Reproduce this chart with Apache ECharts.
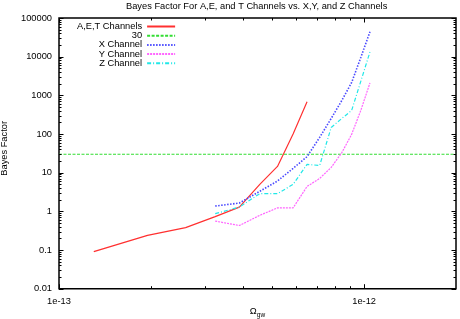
<!DOCTYPE html>
<html><head><meta charset="utf-8">
<script src="https://cdn.jsdelivr.net/npm/echarts@6/dist/echarts.min.js"></script>
<style>html,body{margin:0;padding:0;background:#fff}#c{width:460px;height:319px}</style>
</head><body><div id="c"></div>
<script>
// ---- data ----
const titleText = 'Bayes Factor For A,E, and T Channels vs. X,Y, and Z Channels';
const seriesNames = ['A,E,T Channels', '30', 'X Channel', 'Y Channel', 'Z Channel'];
const xAET = [1.3e-13, 1.95e-13, 2.6e-13, 3.25e-13, 3.9e-13, 4.55e-13, 5.2e-13, 5.85e-13, 6.5e-13];
const yAET = [0.091, 0.24, 0.38, 0.73, 1.29, 5.0, 14.5, 100, 680];
const xXYZ = [3.25e-13, 3.9e-13, 4.55e-13, 5.2e-13, 5.85e-13, 6.5e-13, 7.15e-13, 7.8e-13, 8.45e-13, 9.1e-13, 9.75e-13, 1.045e-12];
const yX = [1.37, 1.64, 3.3, 6.1, 12.9, 26, 82, 253, 738, 2150, 9500, 44000];
const yY = [0.56, 0.43, 0.79, 1.23, 1.23, 4.4, 7.1, 13.7, 33, 98, 407, 2100];
const yZ = [0.87, 1.29, 2.87, 2.87, 4.98, 16.4, 15.4, 148, 253, 407, 2300, 13300];
const xThreshold = [1e-13, 2e-12];
const yThreshold = [30, 30];
const xRange = [1e-13, 2e-12];
const yRange = [0.01, 100000];
const xMajorTicks = [1e-13, 1e-12];
const xMinorTicks = [2e-13, 3e-13, 4e-13, 5e-13, 6e-13, 7e-13, 8e-13, 9e-13];
const yMajorTicks = [0.01, 0.1, 1, 10, 100, 1000, 10000, 100000];
const yMinorTicks = [];
for (let e = -2; e < 5; e++) for (let m = 2; m <= 9; m++) yMinorTicks.push(m * Math.pow(10, e));

const pair = (xs, ys) => xs.map((x, i) => [x, ys[i]]);
const FONT = 'Liberation Sans';
const chart = echarts.init(document.getElementById('c'));

function fmtPow(v) {
  const e = Math.round(Math.log10(v));
  if (Math.abs(Math.log10(v) - e) > 1e-6) return '';
  return e;
}

const option = {
  animation: false,
  backgroundColor: '#fff',
  title: {
    text: titleText, left: 121, top: -3.5,
    textStyle: { fontFamily: FONT, fontSize: 9.3, fontWeight: 'normal', color: '#000', lineHeight: 9 }
  },
  grid: { left: 59, right: 4, top: 18, bottom: 30.3, containLabel: false, outerBoundsMode: 'none',
    show: true, borderColor: '#000', borderWidth: 1.5, backgroundColor: 'transparent' },
  legend: {
    data: seriesNames, orient: 'vertical', align: 'right', left: 72, top: 17,
    itemWidth: 28, itemHeight: 9, itemGap: 0.2,
    itemStyle: { opacity: 0 },
    textStyle: { fontFamily: FONT, fontSize: 9.3, color: '#000', lineHeight: 9 }
  },
  xAxis: {
    type: 'log', logBase: 10, min: xRange[0], max: xRange[1],
    splitNumber: 1,
    axisLine: { show: false }, axisTick: { show: false }, splitLine: { show: false },
    axisLabel: {
      fontFamily: FONT, fontSize: 9.3, color: '#000', margin: 8, showMaxLabel: false,
      formatter: v => { const e = fmtPow(v); return e === '' ? '' : '1e' + e; }
    },
    name: '{o|Ω}{s|gw}', nameLocation: 'middle', nameGap: 18, nameMoveOverlap: false,
    nameTextStyle: {
      rich: {
        o: { fontFamily: FONT, fontSize: 9.3, color: '#000', lineHeight: 12, verticalAlign: 'top' },
        s: { fontFamily: FONT, fontSize: 6.5, color: '#000', lineHeight: 12, verticalAlign: 'bottom', padding: [4, 0, 0, 0] }
      }
    }
  },
  yAxis: {
    type: 'log', logBase: 10, min: yRange[0], max: yRange[1],
    splitNumber: 7,
    axisLine: { show: false }, axisTick: { show: false }, splitLine: { show: false },
    axisLabel: {
      fontFamily: FONT, fontSize: 9.3, color: '#000', margin: 7,
      formatter: v => { const e = fmtPow(v); if (e === '') return ''; return e >= 0 ? String(Math.pow(10, e)) : Math.pow(10, e).toFixed(-e); }
    },
    name: 'Bayes Factor', nameLocation: 'middle', nameGap: 50, nameRotate: 90, nameMoveOverlap: false,
    nameTextStyle: { fontFamily: FONT, fontSize: 9.3, color: '#000', padding: [0, 0, 0, 10] }
  },
  series: [
    { name: seriesNames[0], type: 'line', data: pair(xAET, yAET), symbol: 'none',
      lineStyle: { color: '#ff3030', width: 1.2 }, itemStyle: { color: '#ff3030' } },
    { name: seriesNames[1], type: 'line', data: pair(xThreshold, yThreshold), symbol: 'none',
      lineStyle: { color: '#33dd33', width: 1.2, type: [3, 1.5] }, itemStyle: { color: '#33dd33' } },
    { name: seriesNames[2], type: 'line', data: pair(xXYZ, yX), symbol: 'none',
      lineStyle: { color: '#4a4aff', width: 1.6, type: [1.5, 1.5] }, itemStyle: { color: '#4a4aff' } },
    { name: seriesNames[3], type: 'line', data: pair(xXYZ, yY), symbol: 'none',
      lineStyle: { color: '#ff66ff', width: 1.2, type: [2, 1] }, itemStyle: { color: '#ff66ff' } },
    { name: seriesNames[4], type: 'line', data: pair(xXYZ, yZ), symbol: 'none',
      lineStyle: { color: '#22e8e8', width: 1.2, type: [4, 2, 1, 2] }, itemStyle: { color: '#22e8e8' } },
    { type: 'custom', silent: true, z: 10, data: [[1e-12, 1]],
      renderItem: function (params, api) {
        const cs = params.coordSys;
        const ch = [];
        const ln = (x1, y1, x2, y2) => ch.push({ type: 'line', shape: { x1, y1, x2, y2 }, style: { stroke: '#000', lineWidth: 1 } });
        const bottom = cs.y + cs.height, right = cs.x + cs.width;
        const addX = (v, len) => { const px = Math.round(api.coord([v, 1])[0]) + 0.5; ln(px, bottom, px, bottom - len); ln(px, cs.y, px, cs.y + len); };
        const addY = (v, len) => { const py = Math.round(api.coord([1e-12, v])[1]) + 0.5; ln(cs.x, py, cs.x + len, py); ln(right, py, right - len, py); };
        xMajorTicks.forEach(v => addX(v, 4.5));
        xMinorTicks.forEach(v => addX(v, 2.5));
        yMajorTicks.forEach(v => addY(v, 4.5));
        yMinorTicks.forEach(v => addY(v, 2.5));
        return { type: 'group', children: ch };
      }
    }
  ]
};
chart.setOption(option);
</script>
</body></html>
